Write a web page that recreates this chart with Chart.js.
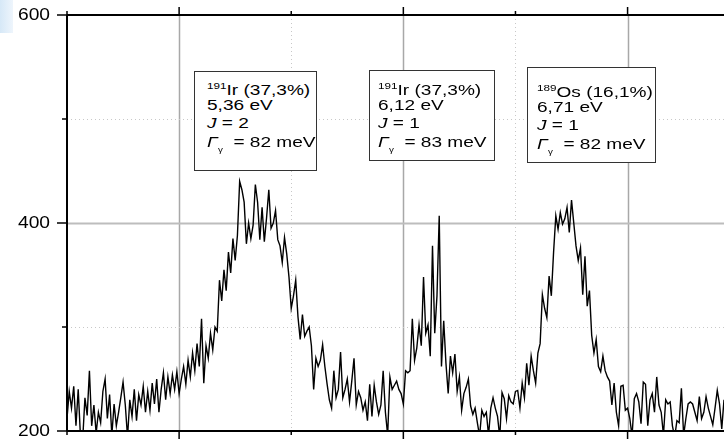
<!DOCTYPE html>
<html>
<head>
  <meta charset="UTF-8" />
  <title>Resonances Ir / Os</title>
  <script src="https://cdn.jsdelivr.net/npm/chart.js"></script>
  <style>
    body { margin: 0; background: #fff; font-family: "Liberation Sans", Arial, sans-serif; }
    #wrap { position: relative; width: 724px; height: 439px; overflow: hidden; }
    #corner {
      position: absolute; left: 0; top: 0; width: 13px; height: 33px;
      background: linear-gradient(to right, #d6e8f7, #eef5fc);
    }
    .box {
      position: absolute; background: #fff; border: 1px solid #333;
      font-size: 15.5px; line-height: 18.5px; color: #000; white-space: nowrap;
    }
    .box .ln { display: block; height: 18.5px; }
    .box .ln span.s { display: inline-block; transform: scaleX(1.23); transform-origin: left center; }
    sup { font-size: 9.5px; vertical-align: 6px; }
    .gsub { font-size: 8px; vertical-align: -5px; }
  </style>
</head>
<body>
  <div id="wrap">
    <canvas id="c" width="724" height="439"></canvas>
    <div id="corner"></div>
  </div>

  <script>
    // spectrum counts, one value per channel (channel = index)
    const counts = [
      212,238,222,243,205,240,195,192,232,215,
      258,205,225,198,218,208,238,250,212,235,
      196,226,205,218,232,247,225,194,230,214,
      240,210,235,225,243,218,238,220,246,226,
      250,218,240,256,230,252,236,254,240,257,
      236,250,262,245,268,252,275,258,284,262,
      308,246,282,270,294,278,300,296,345,325,
      355,335,372,352,385,364,388,440,432,420,
      380,400,385,398,437,420,384,415,382,405,
      432,395,400,412,384,378,362,386,370,348,
      318,330,345,310,288,312,291,296,300,282,
      240,270,262,268,283,262,245,230,222,258,
      232,240,276,232,240,250,228,248,270,225,
      238,232,220,228,210,245,214,244,228,216,
      225,258,218,196,252,240,244,248,240,236,
      226,258,256,258,308,268,280,302,282,348,
      294,302,272,378,294,330,407,262,306,265,
      236,272,256,274,238,252,220,236,242,250,
      224,216,222,208,195,220,214,218,196,222,
      232,222,214,194,237,231,212,234,228,226,
      238,239,222,246,232,265,244,272,258,246,
      275,284,331,318,309,349,330,372,407,394,
      410,399,404,415,391,422,400,378,364,376,
      331,368,320,335,292,275,288,262,257,272,
      258,252,248,225,246,218,205,243,244,220,
      222,212,195,231,236,228,207,247,245,205,
      230,236,218,252,225,218,196,230,226,228,
      205,194,210,208,241,196,212,226,228,226,
      218,210,233,212,218,233,222,214,206,222,
      239,226,202,230
    ];

    const xMin = 0, xMax = 293;
    const yMin = 200, yMax = 600;
    const xTicks = [0, 50, 100, 150, 200, 250];
    const xMajor = [50, 150, 250];
    const yTicks = [200, 300, 400, 500, 600];
    const yMajor = [200, 400, 600];

    // resonance labels
    const isotopes = ['191', '191', '189'];
    const elements = ['Ir', 'Ir', 'Os'];
    const abundance = ['37,3%', '37,3%', '16,1%'];
    const energies = ['5,36 eV', '6,12 eV', '6,71 eV'];
    const spins = ['2', '1', '1'];
    const widths = ['82 meV', '83 meV', '82 meV'];

    // box placement (pixels)
    const boxPos = [
      { left: 194, top: 71, w: 121, h: 98, padL: 12, padT: 5 },
      { left: 369, top: 70, w: 124, h: 89, padL: 8, padT: 6 },
      { left: 527, top: 67, w: 127, h: 94, padL: 9, padT: 11 }
    ];

    const wrap = document.getElementById('wrap');
    boxPos.forEach((p, i) => {
      const b = document.createElement('div');
      b.className = 'box';
      b.style.left = p.left + 'px';
      b.style.top = p.top + 'px';
      b.style.width = (p.w - p.padL) + 'px';
      b.style.height = (p.h - p.padT) + 'px';
      b.style.paddingLeft = p.padL + 'px';
      b.style.paddingTop = p.padT + 'px';
      b.innerHTML =
        '<span class="ln"><span class="s"><sup>' + isotopes[i] + '</sup>' + elements[i] + ' (' + abundance[i] + ')</span></span>' +
        '<span class="ln"><span class="s">' + energies[i] + '</span></span>' +
        '<span class="ln"><span class="s"><i>J</i> = ' + spins[i] + '</span></span>' +
        '<span class="ln"><span class="s"><i>&Gamma;</i><span class="gsub">&gamma;</span>&nbsp; = ' + widths[i] + '</span></span>';
      wrap.appendChild(b);
    });

    function dotted(ctx, x1, y1, x2, y2) {
      ctx.save();
      ctx.strokeStyle = '#c8c8c8';
      ctx.lineWidth = 1;
      ctx.setLineDash([1, 3]);
      ctx.beginPath(); ctx.moveTo(x1, y1); ctx.lineTo(x2, y2); ctx.stroke();
      ctx.restore();
    }

    const gridPlugin = {
      id: 'grid',
      beforeDatasetsDraw(chart) {
        const { ctx, chartArea: a, scales: { x, y } } = chart;
        xTicks.forEach(v => {
          if (v === xMin) return;
          const px = Math.round(x.getPixelForValue(v)) + 0.5;
          if (xMajor.includes(v)) {
            ctx.save(); ctx.strokeStyle = '#a8a8a8'; ctx.lineWidth = 1.5;
            ctx.beginPath(); ctx.moveTo(px, a.top); ctx.lineTo(px, a.bottom); ctx.stroke(); ctx.restore();
          } else dotted(ctx, px, a.top, px, a.bottom);
        });
        yTicks.forEach(v => {
          if (v === yMin || v === yMax) return;
          const py = Math.round(y.getPixelForValue(v)) + 0.5;
          if (yMajor.includes(v)) {
            ctx.save(); ctx.strokeStyle = '#bdbdbd'; ctx.lineWidth = 2;
            ctx.beginPath(); ctx.moveTo(a.left, py); ctx.lineTo(a.right, py); ctx.stroke(); ctx.restore();
          } else dotted(ctx, a.left, py, a.right, py);
        });
      },
      afterDatasetsDraw(chart) {
        const { ctx, chartArea: a, scales: { x, y } } = chart;
        ctx.save();
        ctx.strokeStyle = '#000';
        ctx.lineWidth = 2;
        ctx.beginPath();
        ctx.moveTo(a.left, a.top); ctx.lineTo(a.right, a.top);
        ctx.moveTo(a.left, a.top); ctx.lineTo(a.left, a.bottom);
        ctx.moveTo(a.left, a.bottom); ctx.lineTo(a.right, a.bottom);
        ctx.stroke();
        ctx.lineWidth = 1.5;
        yTicks.forEach(v => {
          const py = y.getPixelForValue(v);
          const len = yMajor.includes(v) ? 10 : 5;
          ctx.beginPath(); ctx.moveTo(a.left - len, py); ctx.lineTo(a.left, py); ctx.stroke();
        });
        xTicks.forEach(v => {
          const px = x.getPixelForValue(v);
          const len = xMajor.includes(v) ? 8 : 4;
          ctx.beginPath();
          ctx.moveTo(px, a.bottom); ctx.lineTo(px, a.bottom + len);
          ctx.moveTo(px, a.top); ctx.lineTo(px, a.top - len);
          ctx.stroke();
        });
        // y labels
        ctx.fillStyle = '#000';
        ctx.font = '16px "Liberation Sans", Arial, sans-serif';
        ctx.textAlign = 'right';
        ctx.textBaseline = 'middle';
        const sx = 1.2;
        yMajor.forEach(v => {
          const py = y.getPixelForValue(v);
          ctx.save();
          ctx.scale(sx, 1);
          ctx.fillText(String(v), 50 / sx, py + 0.5);
          ctx.restore();
        });
        ctx.restore();
      }
    };

    new Chart(document.getElementById('c').getContext('2d'), {
      type: 'line',
      data: {
        datasets: [{
          data: counts.map((v, i) => ({ x: i, y: v })),
          borderColor: '#000',
          borderWidth: 1.4,
          pointRadius: 0,
          tension: 0,
          fill: false
        }]
      },
      options: {
        responsive: false,
        animation: false,
        events: [],
        layout: { padding: { left: 67, top: 15, right: 0, bottom: 8 } },
        scales: {
          x: { type: 'linear', min: xMin, max: xMax, display: false },
          y: { type: 'linear', min: yMin, max: yMax, display: false }
        },
        plugins: { legend: { display: false }, tooltip: { enabled: false } }
      },
      plugins: [gridPlugin]
    });
  </script>
</body>
</html>
